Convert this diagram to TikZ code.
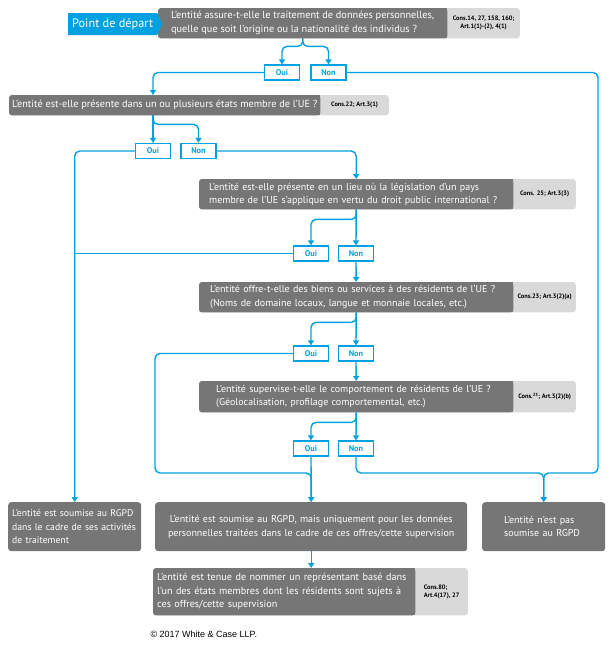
\documentclass[tikz,border=0pt]{standalone}
\usepackage{fontspec}
\setmainfont{PT Sans}
\newfontfamily\arialfont{Liberation Sans}
\usetikzlibrary{arrows.meta,shapes.symbols,backgrounds}
\definecolor{wccyan}{RGB}{0,161,224}
\definecolor{wcdark}{RGB}{118,118,118}
\definecolor{wclight}{RGB}{217,217,217}
\tikzset{
    qbox/.style={anchor=north west, text=white, align=left, inner ysep=0pt,
        font=\fontsize{10}{13.5}\selectfont},
    bigq/.style={font=\fontsize{10.3}{14}\selectfont},
    refbox/.style={anchor=north west, align=center, inner sep=0pt,
        font=\fontsize{6.4}{7.8}\selectfont\bfseries},
    endbox/.style={qbox, fill=wcdark, rounded corners=3pt},
    choice/.style={draw=wccyan, line width=1.3pt, text=wccyan, inner sep=0pt,
        minimum width=35pt, minimum height=15pt, font=\fontsize{8.3}{9}\selectfont\bfseries},
    flow/.style={draw=wccyan, line width=1.4pt, rounded corners=5pt},
    arr/.style={flow, -{Triangle[width=6pt,length=5pt]}},
}
\begin{document}
\begin{tikzpicture}[x=1pt,y=-1pt]
\useasboundingbox (0,0) rectangle (616,654);
\node[signal, signal to=east, signal pointer angle=130, fill=wccyan, text=white, anchor=west,
    minimum height=22pt, inner xsep=4pt, font=\fontsize{12.3}{14}\selectfont] (start) at (68,24) {Point de départ};
\node[qbox, bigq, minimum width=289pt, inner xsep=0pt, minimum height=30pt] (q1) at (158,8)
    {L’entité assure-t-elle le traitement de données personnelles,\\quelle que soit l’origine ou la nationalité des individus ?};
\node[refbox, minimum width=72pt, minimum height=30pt] (q1-ref) at (q1.north east)
    {Cons.14, 27, 158, 160;\\Art.1(1)-(2), 4(1)};
\node[qbox, bigq, minimum width=311pt, inner xsep=0pt, minimum height=20pt] (q2) at (9,95)
    {L’entité est-elle présente dans un ou plusieurs états membre de l’UE ?};
\node[refbox, minimum width=68pt, minimum height=20pt] (q2-ref) at (q2.north east) {Cons.22; Art.3(1)};
\node[qbox, text width=294pt, inner xsep=10pt, minimum height=30pt] (q3) at (199,179)
    {L’entité est-elle présente en un lieu où la législation d’un pays\\membre de l’UE s’applique en vertu du droit public international ?};
\node[refbox, minimum width=62pt, minimum height=30pt] (q3-ref) at (q3.north east) {Cons. 25; Art.3(3)};
\node[qbox, text width=292pt, inner xsep=11pt, minimum height=30pt] (q4) at (199,282)
    {L’entité offre-t-elle des biens ou services à des résidents de l’UE ?\\(Noms de domaine locaux, langue et monnaie locales, etc.)};
\node[refbox, minimum width=62pt, minimum height=30pt] (q4-ref) at (q4.north east) {Cons.23; Art.3(2)(a)};
\node[qbox, text width=280pt, inner xsep=17pt, minimum height=31pt] (q5) at (199,381)
    {L’entité supervise-t-elle le comportement de résidents de l’UE ?\\(Géolocalisation, profilage comportemental, etc.)};
\node[refbox, minimum width=62pt, minimum height=31pt] (q5-ref) at (q5.north east) {Cons.\textsuperscript{23}; Art.3(2)(b)};

\node[choice] (oui1) at (282,72.5) {Oui};
\node[choice] (non1) at (328.5,72.5) {Non};
\node[choice] (oui2) at (153,151) {Oui};
\node[choice] (non2) at (198.5,151) {Non};
\node[choice] (oui3) at (311,253.5) {Oui};
\node[choice] (non3) at (356,253.5) {Non};
\node[choice] (oui4) at (311,353.5) {Oui};
\node[choice] (non4) at (356,353.5) {Non};
\node[choice] (oui5) at (311,448.5) {Oui};
\node[choice] (non5) at (356,448.5) {Non};

\node[endbox, font=\fontsize{9.7}{13.5}\selectfont, text width=125pt, inner xsep=4pt, minimum height=49pt] (sujet) at (8,502)
    {L’entité est soumise au RGPD\\dans le cadre de ses activités\\de traitement};
\node[endbox, align=center, text width=300pt, inner xsep=6pt, minimum height=49pt] (partiel) at (155,502)
    {L’entité est soumise au RGPD, mais uniquement pour les données\\personnelles traitées dans le cadre de ces offres/cette supervision};
\node[endbox, text width=79pt, inner xsep=22pt, minimum height=49pt] (exclu) at (482,502)
    {L’entité n’est pas\\soumise au RGPD};
\node[qbox, font=\fontsize{10.2}{13.5}\selectfont, text width=254pt, inner xsep=4pt, minimum height=47pt] (repres) at (153,568)
    {L’entité est tenue de nommer un représentant basé dans\\l’un des états membres dont les résidents sont sujets à\\ces offres/cette supervision};
\node[refbox, align=left, minimum width=52pt, minimum height=47pt] (repres-ref) at (repres.north east)
    {Cons.80;\\Art.4(17), 27};
\node[anchor=west, font=\arialfont\fontsize{9}{11}\selectfont] (copy) at (147,634) {© 2017 White \& Case LLP.};

\begin{scope}[on background layer]
\foreach \q in {q1,q2,q3,q4,q5,repres} {
    \fill[wclight, rounded corners=3pt] (\q.north west) rectangle (\q-ref.south east);
    \fill[wcdark, rounded corners=3pt] (\q.north west) rectangle (\q.south east);
    \fill[wcdark] ([xshift=-4pt]\q.north east) rectangle (\q.south east);
}
\end{scope}

\coordinate (mergeL) at (155,473);
\coordinate (mergeR) at (598,473);
\draw[arr] (q1.south) -- ++(0,8) -| (oui1.north);
\draw[arr] (q1.south) -- ++(0,8) -| (non1.north);
\draw[arr] (oui1.west) -| (oui2 |- q2.north);
\draw[arr] (non1.east) -| (mergeR) -| (exclu.north);
\draw[arr] (oui2 |- q2.south) -- (oui2.north);
\draw[arr] (oui2 |- q2.south) -- ++(0,9) -| (non2.north);
\draw[arr] (oui2.west) -| (sujet.north);
\draw[arr] (non2.east) -| (q3.north);
\foreach \n in {3,4,5} {
    \draw[arr] (q\n.south) -- (non\n.north);
    \draw[arr] (q\n.south) -- ++(0,10) -| (oui\n.north);
}
\draw[arr] (non3.south) -- (q4.north);
\draw[arr] (non4.south) -- (q5.north);
\draw[flow] (oui3.west) -- (oui3.west -| sujet.north);
\draw[arr] (oui4.west) -| (mergeL) -| (partiel.north);
\draw[arr] (oui5.south) -- (partiel.north);
\draw[arr] (non5.south) |- (mergeR -| exclu.north) -- (exclu.north);
\draw[arr] (partiel.south) -- (partiel.south |- repres.north);
\end{tikzpicture}
\end{document}
